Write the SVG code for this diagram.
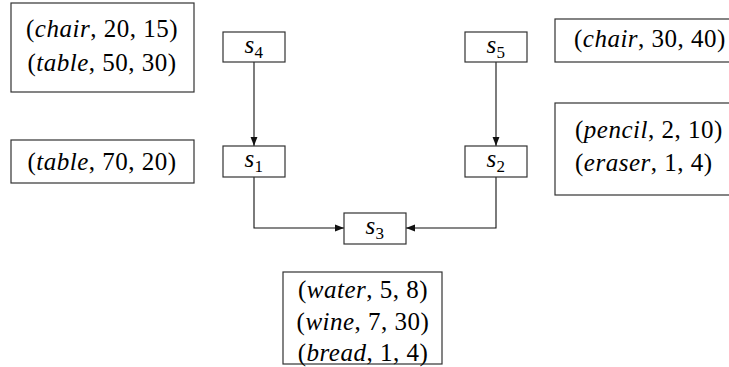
<svg xmlns="http://www.w3.org/2000/svg" width="729" height="367" viewBox="0 0 729 367">
<style>
.box{fill:#fff;stroke:#333;stroke-width:1.2}
.t{font-family:'Liberation Serif','DejaVu Serif',serif;font-size:25px;letter-spacing:0.5px;fill:#000;text-anchor:middle}
.l{text-anchor:start}
.i{font-style:italic}
.sub{font-size:17px}
.c{fill:none;stroke:#111;stroke-width:1.1}
</style>
<defs>
<marker id="ah" viewBox="0 0 10 10" refX="10" refY="5" markerWidth="9" markerHeight="9" markerUnits="userSpaceOnUse" orient="auto">
<path d="M0,1.2 L10,5 L0,8.8 Z" fill="#111"/>
</marker>
</defs>
<rect width="729" height="367" fill="#fff"/>
<g id="connectors">
<path class="c" d="M254,62 V146" marker-end="url(#ah)"/>
<path class="c" d="M496,62 V146" marker-end="url(#ah)"/>
<path class="c" d="M254,177 V228 H344" marker-end="url(#ah)"/>
<path class="c" d="M496,177 V228 H406" marker-end="url(#ah)"/>
</g>
<g id="s4"><rect class="box" x="223" y="32" width="62" height="30"/><text class="t" x="254" y="53"><tspan class="i">s</tspan><tspan class="sub" dy="5">4</tspan></text></g>
<g id="s5"><rect class="box" x="465" y="32" width="62" height="30"/><text class="t" x="496" y="53"><tspan class="i">s</tspan><tspan class="sub" dy="5">5</tspan></text></g>
<g id="s1"><rect class="box" x="223" y="146" width="62" height="31"/><text class="t" x="254" y="167"><tspan class="i">s</tspan><tspan class="sub" dy="5">1</tspan></text></g>
<g id="s2"><rect class="box" x="465" y="146" width="62" height="31"/><text class="t" x="496" y="167"><tspan class="i">s</tspan><tspan class="sub" dy="5">2</tspan></text></g>
<g id="s3"><rect class="box" x="344" y="213" width="62" height="31"/><text class="t" x="375" y="234"><tspan class="i">s</tspan><tspan class="sub" dy="5">3</tspan></text></g>
<g id="info-s4"><rect class="box" x="11" y="3" width="183" height="89"/>
<text class="t" x="102" y="37">(<tspan class="i">chair</tspan>, 20, 15)</text>
<text class="t" x="102" y="71">(<tspan class="i">table</tspan>, 50, 30)</text></g>
<g id="info-s1"><rect class="box" x="11" y="140" width="183" height="43"/>
<text class="t" x="102" y="170">(<tspan class="i">table</tspan>, 70, 20)</text></g>
<g id="info-s5"><rect class="box" x="555" y="19" width="190" height="43"/>
<text class="t l" x="574" y="47">(<tspan class="i">chair</tspan>, 30, 40)</text></g>
<g id="info-s2"><rect class="box" x="555" y="103" width="190" height="92"/>
<text class="t l" x="575" y="138">(<tspan class="i">pencil</tspan>, 2, 10)</text>
<text class="t l" x="575" y="171">(<tspan class="i">eraser</tspan>, 1, 4)</text></g>
<g id="info-s3"><rect class="box" x="283" y="272" width="159" height="92"/>
<text class="t" x="363" y="298">(<tspan class="i">water</tspan>, 5, 8)</text>
<text class="t" x="363" y="330">(<tspan class="i">wine</tspan>, 7, 30)</text>
<text class="t" x="363" y="361">(<tspan class="i">bread</tspan>, 1, 4)</text></g>
</svg>
